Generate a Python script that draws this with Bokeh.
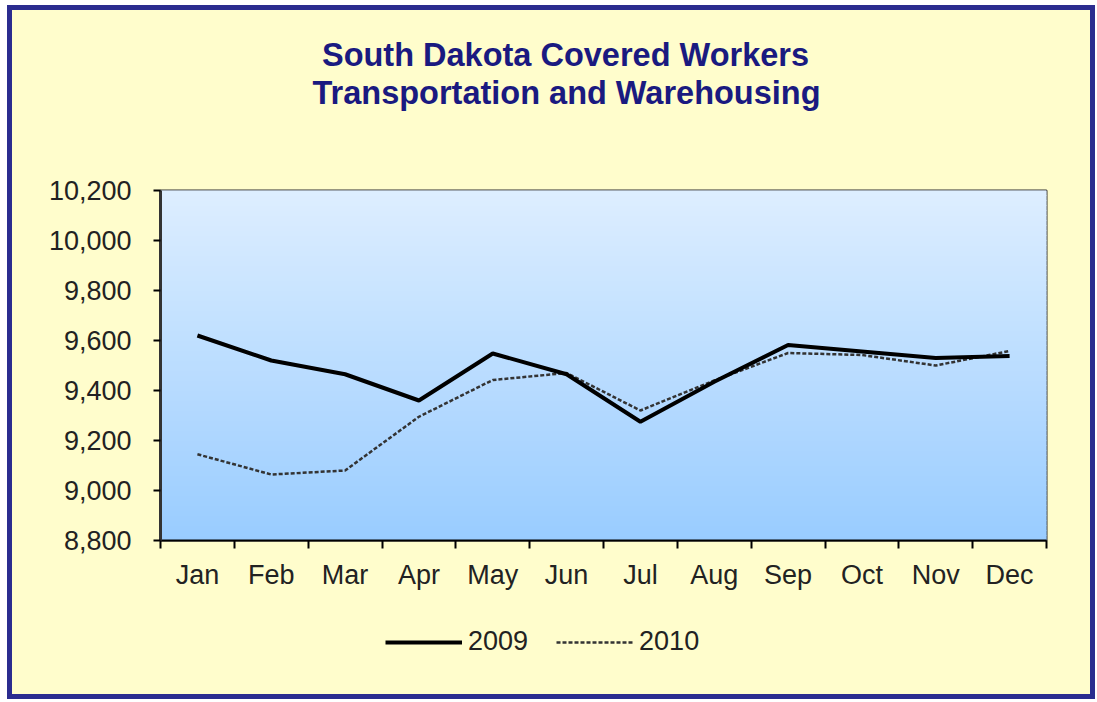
from bokeh.plotting import figure
from bokeh.layouts import column
from bokeh.models import (FixedTicker, NumeralTickFormatter, Label, Legend, LegendItem,
                          Range1d, ColumnDataSource)
from bokeh.embed import file_html
from bokeh.resources import INLINE
import numpy as np

months = ["Jan", "Feb", "Mar", "Apr", "May", "Jun", "Jul", "Aug", "Sep", "Oct", "Nov", "Dec"]
workers_2009 = [9620, 9520, 9465, 9360, 9548, 9465, 9275, 9435, 9582, 9556, 9530, 9538]
workers_2010 = [9145, 9064, 9080, 9295, 9442, 9470, 9320, 9440, 9550, 9542, 9500, 9558]
y_ticks = [8800, 9000, 9200, 9400, 9600, 9800, 10000, 10200]
title_lines = ["South Dakota Covered Workers", "Transportation and Warehousing"]
series_names = ["2009", "2010"]

FONT = "Liberation Sans"
BG = "#FFFDCC"
W = 1078
STYLE_09 = dict(line_color="#000000", line_width=4)
STYLE_10 = dict(line_color="#333333", line_width=2.5, line_dash="4 2")

y_lo, y_hi = y_ticks[0], y_ticks[-1]
n = len(months)
xc = [i + 0.5 for i in range(n)]


def bare(height):
    f = figure(width=W, height=height, output_backend="svg", toolbar_location=None,
               x_range=Range1d(0, 1), y_range=Range1d(0, 1), min_border=0,
               x_axis_location=None, y_axis_location=None)
    f.background_fill_color = BG
    f.border_fill_color = BG
    f.outline_line_color = None
    f.xgrid.visible = False
    f.ygrid.visible = False
    f.title.visible = False
    return f


# ---- title strip ----
top = bare(160)
for txt, cx, base in zip(title_lines, [405, 406], [116, 78]):
    top.add_layout(Label(x=cx, y=base, x_units="screen", y_units="screen", text=txt,
                         text_align="center", text_baseline="alphabetic",
                         text_font=FONT, text_font_style="bold",
                         text_font_size="32.5px", text_color="#1A1A80"))

# ---- main chart ----
p = figure(width=W, height=430, output_backend="svg", toolbar_location=None,
           x_range=Range1d(0, n), y_range=Range1d(y_lo, y_hi),
           min_border_left=148, min_border_top=20, min_border_right=44, min_border_bottom=60)
p.background_fill_color = BG
p.border_fill_color = BG
p.outline_line_color = "#333333"
p.outline_line_width = 2
p.xgrid.visible = False
p.ygrid.visible = False
p.title.visible = False

steps = 70
edges = np.linspace(y_lo, y_hi, steps + 1)
top_c = np.array([221, 238, 255])
bot_c = np.array([153, 204, 255])
cols = []
for i in range(steps):
    t = (i + 0.5) / steps
    c = bot_c + (top_c - bot_c) * t
    cols.append("#%02x%02x%02x" % tuple(int(round(v)) for v in c))
p.quad(left=0, right=n, bottom=edges[:-1], top=edges[1:], fill_color=cols,
       line_color=cols, line_width=1)

src = ColumnDataSource(dict(x=xc, a=workers_2009, b=workers_2010))
p.line("x", "b", source=src, **STYLE_10)
p.line("x", "a", source=src, **STYLE_09)

xa = p.xaxis[0]
xa.ticker = FixedTicker(ticks=xc, minor_ticks=list(range(n + 1)))
xa.major_label_overrides = {x: m for x, m in zip(xc, months)}
xa.major_tick_out = 0
xa.major_tick_in = 0
xa.minor_tick_out = 8
xa.minor_tick_in = 0
xa.minor_tick_line_color = "black"
xa.minor_tick_line_width = 2
xa.axis_line_color = "black"
xa.axis_line_width = 2
xa.major_label_text_font = FONT
xa.major_label_text_font_size = "27px"
xa.major_label_text_color = "#222222"
xa.major_label_standoff = 11

ya = p.yaxis[0]
ya.ticker = FixedTicker(ticks=y_ticks)
ya.formatter = NumeralTickFormatter(format="0,0")
ya.major_tick_out = 7
ya.major_tick_in = 0
ya.minor_tick_out = 0
ya.minor_tick_in = 0
ya.major_tick_line_color = "black"
ya.major_tick_line_width = 2
ya.axis_line_color = "#333333"
ya.axis_line_width = 3
ya.major_label_text_font = FONT
ya.major_label_text_font_size = "27px"
ya.major_label_text_color = "#222222"
ya.major_label_standoff = 22

# ---- legend strip (series drawn off-range here; only their legend samples show) ----
leg = bare(94)
k09 = leg.line(x=xc, y=workers_2009, **STYLE_09)
k10 = leg.line(x=xc, y=workers_2010, **STYLE_10)
legend = Legend(items=[LegendItem(label=series_names[0], renderers=[k09]),
                       LegendItem(label=series_names[1], renderers=[k10])],
                location=(225, 37), orientation="horizontal",
                glyph_width=77, glyph_height=20, label_standoff=6, spacing=28,
                padding=0, margin=0, border_line_color=None, background_fill_alpha=0,
                label_text_font=FONT, label_text_font_size="27px", label_text_color="#222222")
leg.add_layout(legend, "center")

page = column(top, p, leg, spacing=0)
page.styles = {"border": "5px solid #2B2C8F", "margin-left": "7px", "margin-top": "5px",
               "background-color": BG}

open("out.html", "w").write(file_html(page, INLINE))
